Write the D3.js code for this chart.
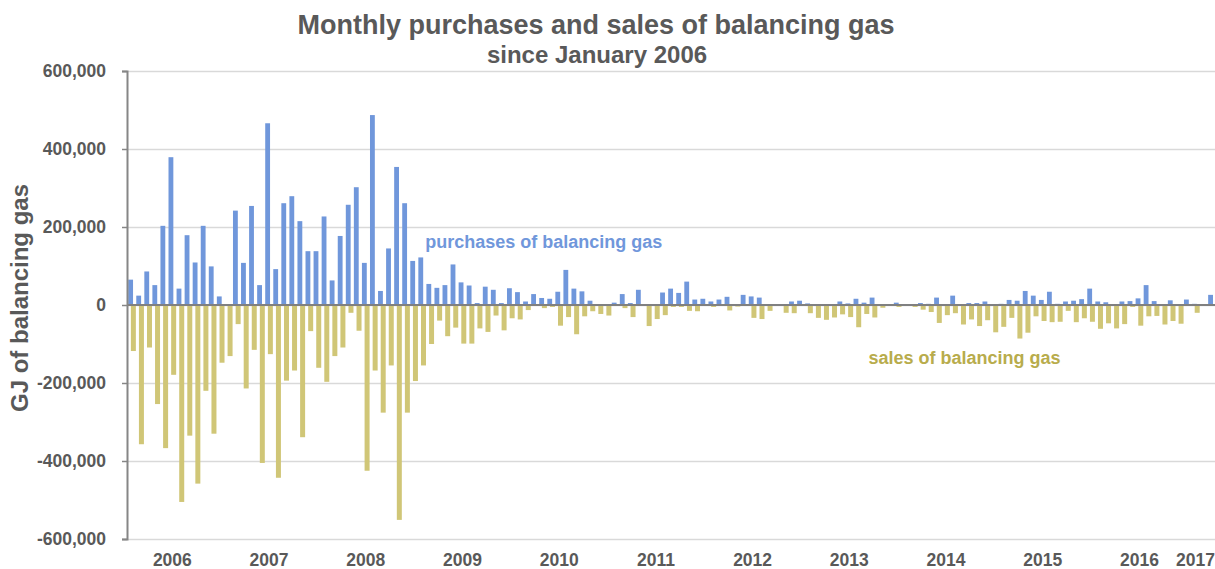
<!DOCTYPE html>
<html>
<head>
<meta charset="utf-8">
<script src="https://cdn.jsdelivr.net/npm/d3@7"></script>
<style>
  body { margin: 0; background: white; }
  text { font-family: "Liberation Sans", Arial, sans-serif; font-weight: bold; }
</style>
</head>
<body>
<script>
// values, thousands of GJ, one per month from Jan 2006 to Mar 2017
var purchases = [65, 24, 86, 51, 203, 379, 42, 179, 109, 203, 99, 22,
  0, 242, 108, 254, 51, 466, 92, 261, 279, 215, 138, 138,
  227, 63, 177, 257, 302, 108, 487, 36, 145, 354, 261, 113,
  122, 54, 44, 51, 104, 58, 50, 5, 47, 39, 5, 43,
  33, 9, 28, 18, 16, 34, 90, 42, 35, 11, 0, 0,
  6, 28, 5, 39, 0, 0, 32, 42, 31, 60, 14, 16,
  9, 14, 21, 0, 26, 22, 19, 0, 0, 0, 9, 11,
  4, 0, 0, 0, 9, 4, 16, 6, 19, 0, 0, 6,
  0, 0, 5, 3, 19, 0, 24, 0, 5, 5, 9, 0,
  3, 13, 11, 36, 24, 13, 34, 3, 9, 11, 15, 42,
  9, 7, 0, 9, 10, 17, 51, 10, 0, 12, 0, 14,
  3, 0, 26];
var sales = [-118, -357, -109, -254, -367, -179, -505, -335, -458, -220, -330, -148,
  -131, -49, -214, -115, -405, -126, -443, -194, -168, -339, -67, -161,
  -197, -131, -109, -20, -66, -425, -168, -276, -155, -551, -276, -195,
  -155, -100, -40, -80, -58, -99, -99, -60, -69, -27, -65, -34,
  -37, -13, 0, -8, -5, -53, -31, -75, -29, -16, -23, -27,
  0, -8, -31, 0, -54, -36, -26, -5, -5, -15, -16, 0,
  -5, 0, -14, -4, 0, -33, -36, -15, 0, -20, -21, 0,
  -21, -33, -38, -32, -24, -31, -57, -23, -32, -7, 0, -5,
  0, -5, -12, -18, -46, -26, -21, -50, -37, -54, -39, -70,
  -56, -33, -86, -71, -29, -41, -44, -43, -15, -44, -34, -43,
  -61, -47, -60, -49, -5, -53, -29, -28, -50, -41, -48, 0,
  -20, 0, 0];
var months = d3.timeMonth.range(new Date(2006, 0, 1), new Date(2017, 3, 1));
var years = ["2006", "2007", "2008", "2009", "2010", "2011", "2012", "2013", "2014", "2015", "2016", "2017"];
var yTicks = [-600000, -400000, -200000, 0, 200000, 400000, 600000];

var width = 1215;
var height = 569;
var margin = { left: 127, right: 0, top: 71, bottom: 30 };
var plotW = width - margin.left - margin.right;
var plotH = height - margin.top - margin.bottom;

var blue = "#7097db";
var gold = "#d0c677";
var grey = "#595959";

var svg = d3.select("body")
  .append("svg")
    .attr("width", width)
    .attr("height", height);

var x = d3.scaleBand()
  .domain(d3.range(months.length))
  .range([0, plotW])
  .padding(0);

var y = d3.scaleLinear()
  .domain([-600000, 600000])
  .range([plotH, 0]);

var bw = x.bandwidth();

var chartGroup = svg.append("g").attr("transform", "translate(" + margin.left + "," + margin.top + ")");

// gridlines
chartGroup.append("g")
    .attr("class", "grid")
    .call(d3.axisLeft(y).tickValues(yTicks).tickSize(-plotW).tickFormat(""))
    .call(g => g.select(".domain").remove())
    .call(g => g.selectAll("line").attr("stroke", "#d9d9d9").attr("stroke-width", 1.5));

// purchases above zero
chartGroup.selectAll("rect.buy")
  .data(purchases)
  .enter()
  .append("rect")
    .attr("class", "buy")
    .attr("x", function(d, i) { return x(i) + bw * 0.15; })
    .attr("y", function(d) { return y(d * 1000); })
    .attr("width", bw * 0.6)
    .attr("height", function(d) { return y(0) - y(d * 1000); })
    .attr("fill", blue);

// sales below zero
chartGroup.selectAll("rect.sell")
  .data(sales)
  .enter()
  .append("rect")
    .attr("class", "sell")
    .attr("x", function(d, i) { return x(i) + bw * 0.48; })
    .attr("y", y(0))
    .attr("width", bw * 0.62)
    .attr("height", function(d) { return y(d * 1000) - y(0); })
    .attr("fill", gold);

// zero line
chartGroup.append("line")
    .attr("x1", 0)
    .attr("x2", plotW)
    .attr("y1", y(0))
    .attr("y2", y(0))
    .attr("stroke", "#808080")
    .attr("stroke-width", 2);

// y axis, plain hyphen for negatives like the original
var fmt = d3.format(",d");
var yAxis = d3.axisLeft(y)
  .tickValues(yTicks)
  .tickSize(5)
  .tickPadding(16)
  .tickFormat(function(d) { return fmt(d).replace("\u2212", "-"); });

chartGroup.append("g")
    .attr("class", "axis y")
    .call(yAxis)
    .call(g => g.select(".domain").attr("stroke", "#868686").attr("stroke-width", 2))
    .call(g => g.selectAll("line").attr("stroke", "#868686").attr("stroke-width", 1.5))
    .call(g => g.selectAll("text").attr("fill", grey).style("font-size", "17.5px").style("font-weight", "bold"));

// year labels centred under each year of months
var yearGroup = chartGroup.append("g").attr("class", "axis x");
years.forEach(function(yr) {
  var idx = d3.range(months.length).filter(function(i) { return months[i].getFullYear() == +yr; });
  var cx = (x(idx[0]) + x(idx[idx.length - 1]) + bw) / 2 - 3;
  var t = yearGroup.append("text")
      .attr("x", cx)
      .attr("y", plotH + 27)
      .attr("text-anchor", "middle")
      .attr("fill", grey)
      .style("font-size", "17.5px")
      .text(yr);
  // keep the last label inside the chart
  var half = t.node().getComputedTextLength() / 2;
  if (cx + half > plotW) t.attr("x", plotW - half);
});

// series labels
chartGroup.append("text")
    .attr("x", x(37))
    .attr("y", y(145000))
    .attr("fill", blue)
    .style("font-size", "18px")
    .text("purchases of balancing gas");

chartGroup.append("text")
    .attr("x", x(92))
    .attr("y", y(-150000))
    .attr("fill", "#b8ac4c")
    .style("font-size", "18px")
    .text("sales of balancing gas");

// axis title
svg.append("text")
    .attr("transform", "translate(28," + (margin.top + y(18000)) + ") rotate(-90)")
    .attr("text-anchor", "middle")
    .attr("fill", grey)
    .style("font-size", "24px")
    .text("GJ of balancing gas");

// titles
svg.append("text")
    .attr("x", 596)
    .attr("y", 34)
    .attr("text-anchor", "middle")
    .attr("fill", grey)
    .style("font-size", "27px")
    .text("Monthly purchases and sales of balancing gas");

svg.append("text")
    .attr("x", 597)
    .attr("y", 63)
    .attr("text-anchor", "middle")
    .attr("fill", grey)
    .style("font-size", "24px")
    .text("since January 2006");
</script>
</body>
</html>
